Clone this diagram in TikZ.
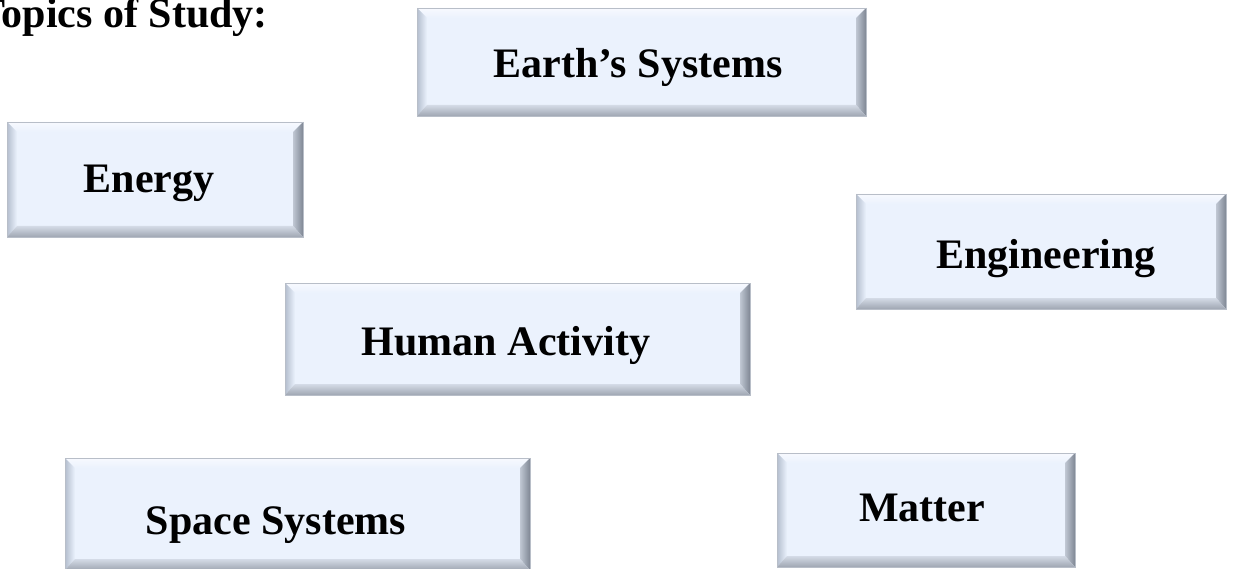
\documentclass[tikz,border=0pt]{standalone}
\usepackage{fontspec}
\setmainfont{Liberation Serif}
\usetikzlibrary{calc}

\definecolor{facebl}{HTML}{EBF2FD}
\definecolor{bevtop}{HTML}{F7F9FE}
\definecolor{bevleft}{HTML}{B4BECE}
\definecolor{bevright}{HTML}{7F8794}
\definecolor{bevbot}{HTML}{9FA6B2}
\definecolor{edgegr}{HTML}{B8BEC8}

\tikzset{
  topic/.style={draw=edgegr, line width=0.8pt, fill=facebl, inner sep=0pt, outer sep=0pt},
  topictext/.style={inner sep=0pt, text height=28pt, text depth=0pt,
    font=\fontsize{42}{48}\selectfont\bfseries},
}

\begin{document}
\begin{tikzpicture}[x=1pt,y=-1pt]
\useasboundingbox (0,0) rectangle (1241,569);
\node[anchor=base east, inner sep=0pt, font=\fontsize{42}{48}\selectfont\bfseries] (title) at (268,28) {Topics of Study:};

% boxes
\node[topic, minimum width=449, minimum height=108] (earth) at (641.5,62) {};
\node[topic, minimum width=296, minimum height=115] (energy) at (155,179.5) {};
\node[topic, minimum width=370, minimum height=115] (engineering) at (1041,251.5) {};
\node[topic, minimum width=465, minimum height=112] (human) at (517.5,339) {};
\node[topic, minimum width=465, minimum height=112] (space) at (297.5,514) {};
\node[topic, minimum width=298, minimum height=114] (matter) at (926,510) {};

% bevelled edges
\foreach \b in {earth,energy,engineering,human,space,matter}{
  \shade[top color=bevtop, bottom color=facebl] (\b.north west) -- (\b.north east)
    -- ($(\b.north east)+(-10pt,-10pt)$) -- ($(\b.north west)+(10pt,-10pt)$) -- cycle;
  \shade[left color=bevleft, right color=facebl] (\b.north west) -- ($(\b.north west)+(10pt,-10pt)$)
    -- ($(\b.south west)+(10pt,11pt)$) -- (\b.south west) -- cycle;
  \shade[left color=facebl!60!bevright, right color=bevright] (\b.north east) -- ($(\b.north east)+(-10pt,-10pt)$)
    -- ($(\b.south east)+(-10pt,11pt)$) -- (\b.south east) -- cycle;
  \shade[top color=facebl!70!bevbot, bottom color=bevbot] (\b.south west) -- ($(\b.south west)+(10pt,11pt)$)
    -- ($(\b.south east)+(-10pt,11pt)$) -- (\b.south east) -- cycle;
  \draw[edgegr, line width=0.8pt] (\b.north west) rectangle (\b.south east);
}

% labels
\node[topictext] (earthtxt) at (638,64) {Earth’s Systems};
\node[topictext] (energytxt) at (149,179) {Energy};
\node[topictext] (engineeringtxt) at (1046,254) {Engineering};
\node[topictext] (humantxt) at (506,341) {Human Activity};
\node[topictext] (spacetxt) at (276,520) {Space Systems};
\node[topictext] (mattertxt) at (922,507) {Matter};
\end{tikzpicture}
\end{document}
